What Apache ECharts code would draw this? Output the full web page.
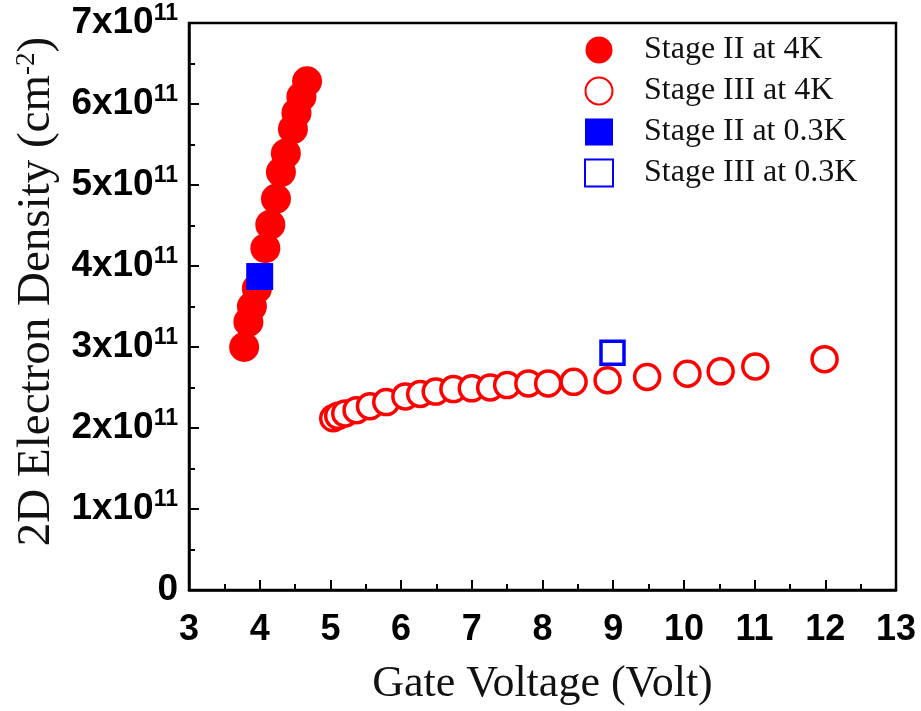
<!DOCTYPE html>
<html><head><meta charset="utf-8">
<script src="https://cdn.jsdelivr.net/npm/echarts@6/dist/echarts.min.js"></script>
<style>html,body{margin:0;padding:0;background:#fff}#c{width:921px;height:711px}</style>
</head><body><div id="c"></div>
<script>
// Stage II at 4K (filled red circles)
const stage2_4K_x = [3.78, 3.84, 3.89, 3.96, 4.08, 4.15, 4.23, 4.30, 4.37, 4.47, 4.52, 4.59, 4.67];
const stage2_4K_y = [3.00e11, 3.31e11, 3.50e11, 3.72e11, 4.22e11, 4.51e11, 4.83e11, 5.16e11, 5.39e11, 5.69e11, 5.89e11, 6.09e11, 6.28e11];
// Stage III at 4K (open red circles)
const stage3_4K_x = [5.04, 5.11, 5.21, 5.37, 5.56, 5.79, 6.06, 6.27, 6.49, 6.74, 7.00, 7.26, 7.50, 7.80, 8.08, 8.44, 8.92, 9.48, 10.05, 10.52, 11.01, 11.99];
const stage3_4K_y = [2.12e11, 2.15e11, 2.18e11, 2.22e11, 2.27e11, 2.32e11, 2.39e11, 2.42e11, 2.45e11, 2.48e11, 2.49e11, 2.50e11, 2.53e11, 2.55e11, 2.55e11, 2.57e11, 2.59e11, 2.63e11, 2.67e11, 2.70e11, 2.76e11, 2.85e11];
// Stage II at 0.3K (filled blue square)
const stage2_03K_x = [4.00];
const stage2_03K_y = [3.87e11];
// Stage III at 0.3K (open blue square)
const stage3_03K_x = [8.99];
const stage3_03K_y = [2.93e11];

const seriesNames = ['Stage II at 4K', 'Stage III at 4K', 'Stage II at 0.3K', 'Stage III at 0.3K'];
const xTicks = [3, 4, 5, 6, 7, 8, 9, 10, 11, 12, 13];
const yTickMantissa = [0, 1, 2, 3, 4, 5, 6, 7];

function pairs(xs, ys) { return xs.map((x, i) => [x, ys[i]]); }

const chart = echarts.init(document.getElementById('c'), null, {renderer: 'canvas'});
const sans = 'Liberation Sans, Arial, sans-serif';
const serif = 'Liberation Serif, Times New Roman, serif';

chart.setOption({
  backgroundColor: '#fff',
  animation: false,
  grid: {left: 189, right: 25, top: 23, bottom: 121, show: true, borderColor: '#000', borderWidth: 2.5, backgroundColor: 'transparent'},
  legend: {
    orient: 'vertical', left: 579, top: 29,
    itemWidth: 28, itemHeight: 27, itemGap: 9,
    data: seriesNames,
    textStyle: {fontFamily: serif, fontSize: 32, lineHeight: 28, color: '#111', padding: [0, 0, 0, 26]}
  },
  xAxis: {
    type: 'value', min: 3, max: 13, interval: 1,
    name: 'Gate Voltage (Volt)', nameLocation: 'middle', nameGap: 72,
    nameTextStyle: {fontFamily: serif, fontSize: 44, color: '#111'},
    axisLine: {show: true, lineStyle: {color: '#000', width: 2.5}},
    axisTick: {show: true, inside: true, length: 10, lineStyle: {color: '#000', width: 2}},
    minorTick: {show: true, splitNumber: 2, length: 6, lineStyle: {color: '#000', width: 2}},
    splitLine: {show: false},
    axisLabel: {fontFamily: sans, fontWeight: 'bold', fontSize: 36, color: '#000', margin: 22,
      formatter: v => xTicks.includes(Math.round(v)) ? String(Math.round(v)) : ''}
  },
  yAxis: {
    type: 'value', min: 0, max: 7e11, interval: 1e11,
    name: '2D Electron Density (cm{sup|-2})', nameLocation: 'middle', nameGap: 128, nameRotate: 90,
    nameTextStyle: {fontFamily: serif, fontSize: 47, color: '#111', padding: [0, 0, 0, 30],
      rich: {sup: {fontFamily: serif, fontSize: 27, color: '#111', padding: [0, 0, 20, 0]}}},
    axisLine: {show: true, lineStyle: {color: '#000', width: 2.5}},
    axisTick: {show: true, inside: true, length: 10, lineStyle: {color: '#000', width: 2}},
    minorTick: {show: true, splitNumber: 2, length: 6, lineStyle: {color: '#000', width: 2}},
    splitLine: {show: false},
    axisLabel: {
      margin: 11, color: '#000',
      formatter: v => {
        const m = Math.round(v / 1e11);
        if (!yTickMantissa.includes(m)) return '';
        return m === 0 ? '{b|0}' : '{b|' + m + 'x10}{s|11}';
      },
      rich: {
        b: {fontFamily: sans, fontWeight: 'bold', fontSize: 37, color: '#000'},
        s: {fontFamily: sans, fontWeight: 'bold', fontSize: 23, color: '#000', padding: [0, 0, 18, 0]}
      }
    }
  },
  series: [
    {name: seriesNames[0], type: 'scatter', symbol: 'circle', symbolSize: 30, z: 2,
      itemStyle: {color: '#ff0000', opacity: 1}, data: pairs(stage2_4K_x, stage2_4K_y)},
    {name: seriesNames[1], type: 'scatter', symbol: 'circle', symbolSize: 25, z: 2,
      itemStyle: {color: '#ffffff', borderColor: '#ff0000', borderWidth: 3.5, opacity: 1}, data: pairs(stage3_4K_x, stage3_4K_y)},
    {name: seriesNames[2], type: 'scatter', symbol: 'rect', symbolSize: 27, z: 3,
      itemStyle: {color: '#0000ff', opacity: 1}, data: pairs(stage2_03K_x, stage2_03K_y)},
    {name: seriesNames[3], type: 'scatter', symbol: 'rect', symbolSize: 23, z: 3,
      itemStyle: {color: '#ffffff', borderColor: '#0000ff', borderWidth: 3.5, opacity: 1}, data: pairs(stage3_03K_x, stage3_03K_y)}
  ]
});
</script>
</body></html>
